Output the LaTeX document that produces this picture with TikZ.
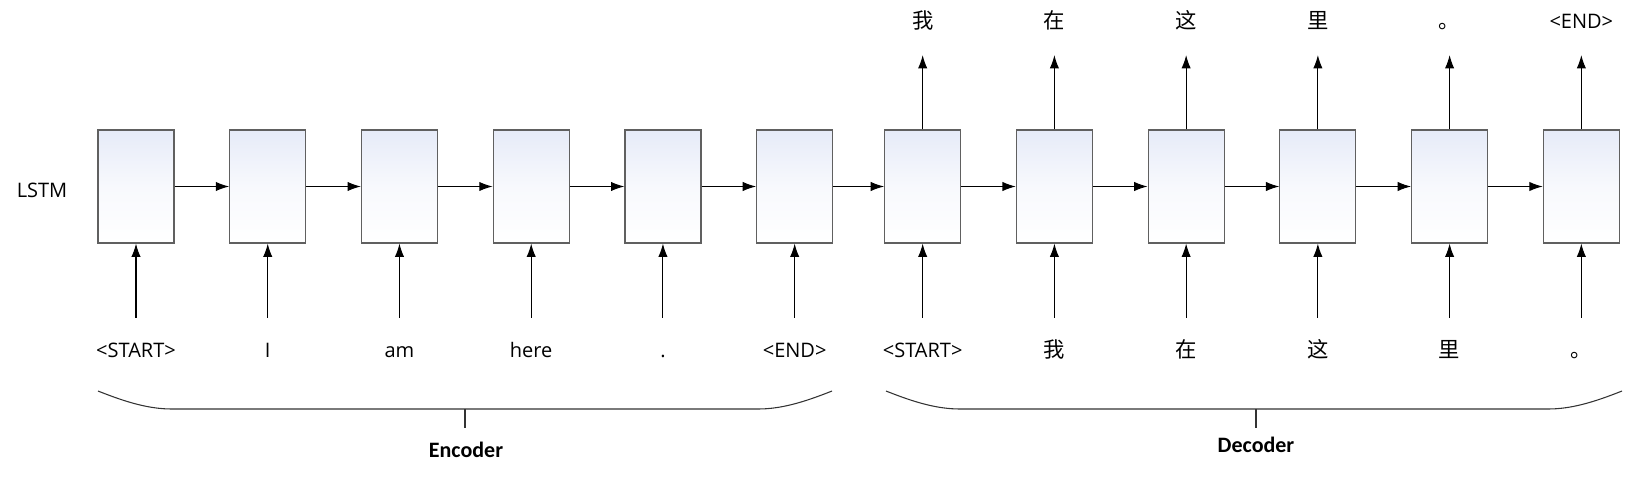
\documentclass[tikz,border=0pt]{standalone}
\usepackage{fontspec}
\setmainfont{Open Sans}
\newfontfamily\cjk{Noto Sans CJK SC}
\newfontfamily\brfont{Carlito}
\usetikzlibrary{arrows.meta}

\definecolor{boxtop}{RGB}{230,235,248}
\definecolor{boxline}{RGB}{96,96,96}

\begin{document}
\begin{tikzpicture}[x=0.75pt,y=-0.75pt,node distance=98.8pt]

\tikzstyle{lstm} = [rectangle, minimum width=57pt, minimum height=84.75pt, draw=boxline, line width=0.9pt, top color=boxtop, bottom color=white, middle color=boxtop!30!white]
\tikzstyle{word} = [font=\fontsize{15}{18}\selectfont, text height=11pt, text depth=3pt, inner sep=3.33pt]
\tikzstyle{hanzi} = [word, font=\cjk\fontsize{16}{18}\selectfont]
\tikzstyle{part} = [font=\brfont\bfseries\fontsize{16.5}{20}\selectfont]
\tikzstyle{arrow} = [line width=0.8pt,-{Latex[length=10pt,width=7pt]}]
\tikzstyle{brace} = [line width=0.8pt, draw=black!80]

\useasboundingbox (0,0) rectangle (1631,477);

% LSTM cells
\node (e1) [lstm] at (136,186.5) {};
\node (e2) [lstm, right of=e1] {};
\node (e3) [lstm, right of=e2] {};
\node (e4) [lstm, right of=e3] {};
\node (e5) [lstm, right of=e4] {};
\node (e6) [lstm, right of=e5] {};
\node (d1) [lstm, right of=e6, xshift=-2.8pt] {};
\node (d2) [lstm, right of=d1] {};
\node (d3) [lstm, right of=d2] {};
\node (d4) [lstm, right of=d3] {};
\node (d5) [lstm, right of=d4] {};
\node (d6) [lstm, right of=d5] {};

\node (lstmlbl) [word, node distance=70.5pt, left of=e1, yshift=-4pt] {LSTM};

% inputs
\node (i1) [word, node distance=124pt, below of=e1] {<START>};
\node (i2) [word, node distance=124pt, below of=e2] {I};
\node (i3) [word, node distance=124pt, below of=e3] {am};
\node (i4) [word, node distance=124pt, below of=e4] {here};
\node (i5) [word, node distance=124pt, below of=e5] {.};
\node (i6) [word, node distance=124pt, below of=e6] {<END>};
\node (i7) [word, node distance=124pt, below of=d1] {<START>};
\node (i8) [hanzi, node distance=124pt, below of=d2] {我};
\node (i9) [hanzi, node distance=124pt, below of=d3] {在};
\node (i10) [hanzi, node distance=124pt, below of=d4] {这};
\node (i11) [hanzi, node distance=124pt, below of=d5] {里};
\node (i12) [hanzi, node distance=124pt, below of=d6] {。};

% outputs
\node (o1) [hanzi, node distance=122.6pt, above of=d1] {我};
\node (o2) [hanzi, node distance=122.6pt, above of=d2] {在};
\node (o3) [hanzi, node distance=122.6pt, above of=d3] {这};
\node (o4) [hanzi, node distance=122.6pt, above of=d4] {里};
\node (o5) [hanzi, node distance=122.6pt, above of=d5] {。};
\node (o6) [word, node distance=122.6pt, above of=d6] {<END>};

% recurrent arrows
\draw [arrow] (e1.east) -- (e2.west);
\draw [arrow] (e2.east) -- (e3.west);
\draw [arrow] (e3.east) -- (e4.west);
\draw [arrow] (e4.east) -- (e5.west);
\draw [arrow] (e5.east) -- (e6.west);
\draw [arrow] (e6.east) -- (d1.west);
\draw [arrow] (d1.east) -- (d2.west);
\draw [arrow] (d2.east) -- (d3.west);
\draw [arrow] (d3.east) -- (d4.west);
\draw [arrow] (d4.east) -- (d5.west);
\draw [arrow] (d5.east) -- (d6.west);

% input arrows
\draw [arrow, shorten <=15pt] (i1.north) -- (e1.south);
\draw [arrow, shorten <=15pt] (i2.north) -- (e2.south);
\draw [arrow, shorten <=15pt] (i3.north) -- (e3.south);
\draw [arrow, shorten <=15pt] (i4.north) -- (e4.south);
\draw [arrow, shorten <=15pt] (i5.north) -- (e5.south);
\draw [arrow, shorten <=15pt] (i6.north) -- (e6.south);
\draw [arrow, shorten <=15pt] (i7.north) -- (d1.south);
\draw [arrow, shorten <=15pt] (i8.north) -- (d2.south);
\draw [arrow, shorten <=15pt] (i9.north) -- (d3.south);
\draw [arrow, shorten <=15pt] (i10.north) -- (d4.south);
\draw [arrow, shorten <=15pt] (i11.north) -- (d5.south);
\draw [arrow, shorten <=15pt] (i12.north) -- (d6.south);

% output arrows
\draw [arrow, shorten >=13.5pt] (d1.north) -- (o1.south);
\draw [arrow, shorten >=13.5pt] (d2.north) -- (o2.south);
\draw [arrow, shorten >=13.5pt] (d3.north) -- (o3.south);
\draw [arrow, shorten >=13.5pt] (d4.north) -- (o4.south);
\draw [arrow, shorten >=13.5pt] (d5.north) -- (o5.south);
\draw [arrow, shorten >=13.5pt] (d6.north) -- (o6.south);

% braces
\draw [brace] (98,391) .. controls (128,403) and (150,409) .. (172,409) -- (758,409) .. controls (780,409) and (802,403) .. (832,391);
\draw [brace] (465,409) -- (465,428);
\node (enc) [part] at (466,450) {Encoder};

\draw [brace] (886,391) .. controls (916,403) and (938,409) .. (960,409) -- (1548,409) .. controls (1570,409) and (1592,403) .. (1622,391);
\draw [brace] (1256,409) -- (1256,428);
\node (dec) [part] at (1256,445) {Decoder};

\end{tikzpicture}
\end{document}
